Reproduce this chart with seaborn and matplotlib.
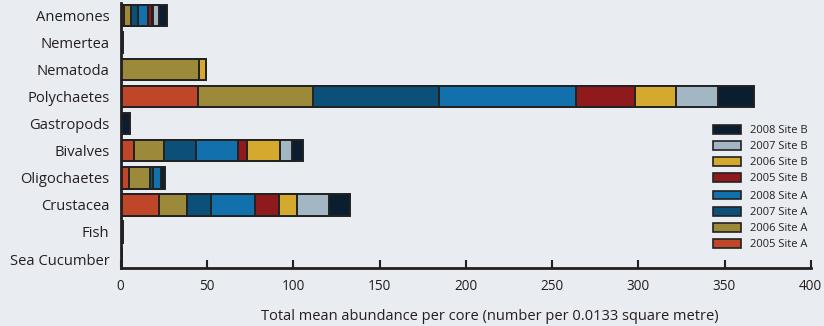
import numpy as np
import pandas as pd
import matplotlib
matplotlib.use("Agg")
import matplotlib.pyplot as plt
from matplotlib.patches import Patch
import seaborn as sns

# categories, top to bottom
categories = ["Anemones", "Nemertea", "Nematoda", "Polychaetes", "Gastropods",
              "Bivalves", "Oligochaetes", "Crustacea", "Fish", "Sea Cucumber"]

# mean abundance per core
site_a_2005 = [1.9, 0.3, 0.0, 45.0, 0.0, 7.7, 4.8, 22.2, 0.3, 0.2]
site_a_2006 = [3.9, 0.0, 45.5, 66.5, 0.0, 17.6, 12.2, 16.4, 0.0, 0.0]
site_a_2007 = [4.4, 0.0, 0.0, 73.0, 0.0, 18.3, 1.5, 13.6, 0.0, 0.0]
site_a_2008 = [5.8, 0.0, 0.0, 79.2, 0.0, 24.4, 4.9, 25.8, 0.0, 0.0]
site_b_2005 = [2.0, 0.0, 0.0, 34.2, 0.0, 5.4, 0.0, 13.6, 0.0, 0.0]
site_b_2006 = [0.9, 0.0, 4.0, 24.0, 0.0, 18.9, 0.0, 10.4, 0.0, 0.0]
site_b_2007 = [3.5, 0.0, 0.0, 24.5, 0.0, 7.1, 0.0, 18.7, 0.0, 0.0]
site_b_2008 = [4.6, 1.2, 0.0, 20.8, 5.5, 6.1, 2.3, 12.0, 0.8, 0.3]

series_names = ["2005 Site A", "2006 Site A", "2007 Site A", "2008 Site A",
                "2005 Site B", "2006 Site B", "2007 Site B", "2008 Site B"]
series_values = [site_a_2005, site_a_2006, site_a_2007, site_a_2008,
                 site_b_2005, site_b_2006, site_b_2007, site_b_2008]
series_colors = ["#C0462A", "#9C8A3A", "#0C4F78", "#1271AC",
                 "#8E1A1E", "#D5A92D", "#A3B6C4", "#0A1E30"]

bg = "#E9ECF1"
edge = "#222222"
ink = "#231F20"

sns.set_theme(style="ticks")
plt.rcParams["font.family"] = ["Open Sans", "DejaVu Sans"]
plt.rcParams["axes.facecolor"] = bg
plt.rcParams["figure.facecolor"] = bg

fig = plt.figure(figsize=(8.24, 3.26), dpi=100)
ax = fig.add_axes([0.1465, 0.179, 0.8375, 0.812])

# stacked bars: draw cumulative totals from the last series back to the first
df = pd.DataFrame(dict(zip(series_names, series_values)), index=categories)
cum = df.cumsum(axis=1)
for name, color in reversed(list(zip(series_names, series_colors))):
    sns.barplot(x=cum[name].values, y=categories, order=categories,
                color=color, edgecolor=edge, linewidth=1.4, width=0.78,
                orient="h", saturation=1, ax=ax)

ax.set_xlim(0, 400)
ax.set_ylim(9.32, -0.48)
ax.set_xticks(np.arange(0, 401, 50))
ax.set_xlabel("Total mean abundance per core (number per 0.0133 square metre)",
              fontsize=10.5, color=ink)
ax.xaxis.set_label_coords(0.535, -0.158)
ax.set_ylabel("")

sns.despine(ax=ax)
for side in ["left", "bottom"]:
    ax.spines[side].set_linewidth(2)
    ax.spines[side].set_color(ink)
ax.tick_params(axis="x", direction="in", length=6, width=1.5, color=ink,
               labelsize=9.8, labelcolor=ink, pad=8)
ax.tick_params(axis="y", length=0, labelsize=10.6, labelcolor=ink, pad=8)

# legend in two groups: site B on top, site A below
def make_legend(names, colors, top_px):
    handles = [Patch(facecolor=c, edgecolor=edge, linewidth=1.2) for c in colors]
    leg = fig.legend(handles, names, loc="upper left",
                     bbox_to_anchor=(713 / 824, 1 - top_px / 326),
                     frameon=False, fontsize=8, handlelength=2.5,
                     handleheight=0.8, handletextpad=0.8, labelspacing=0.45,
                     borderpad=0, borderaxespad=0)
    for t in leg.get_texts():
        t.set_color(ink)
    return leg

make_legend(series_names[7:3:-1], series_colors[7:3:-1], 125)
make_legend(series_names[3::-1], series_colors[3::-1], 191)

fig.savefig("out.png", dpi=100, facecolor=bg)
